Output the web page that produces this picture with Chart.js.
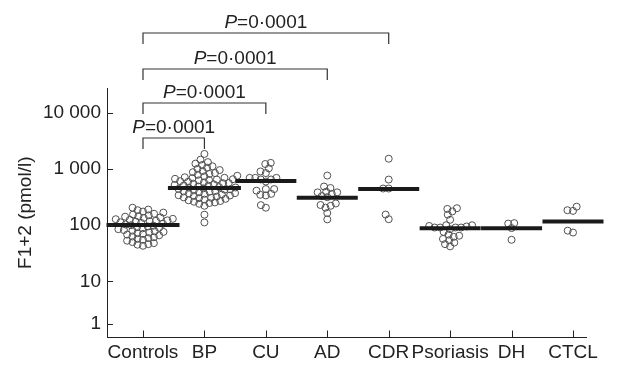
<!DOCTYPE html>
<html><head><meta charset="utf-8">
<script src="https://cdn.jsdelivr.net/npm/chart.js@4.4.1/dist/chart.umd.min.js"></script>
<style>html,body{margin:0;padding:0;background:#fff}</style>
</head><body>
<canvas id="c" width="627" height="378"></canvas>
<script>
// ---- data ----
const categories = ['Controls', 'BP', 'CU', 'AD', 'CDR', 'Psoriasis', 'DH', 'CTCL'];

const controls = [205, 190, 185, 175, 168, 160, 155, 150, 145, 142, 138, 135, 130,
  128, 125, 122, 120, 118, 116, 113, 110, 106, 103, 100, 98, 95, 92, 90,
  88, 85, 82, 80, 78, 76, 74, 72, 70, 68, 66, 63, 61, 59, 57, 55, 53,
  50, 48, 46, 45, 43];
const bp = [1860, 1470, 1330, 1250, 1180, 1120, 1060, 1010, 960, 920, 880, 850,
  820, 790, 760, 740, 715, 700, 690, 670, 660, 650, 640, 630, 610, 595, 580, 565,
  560, 550, 535, 520, 512, 505, 490, 478, 470, 466, 454, 442, 436, 430, 418, 406,
  400, 395, 384, 373, 368, 362, 352, 342, 338, 332, 322, 313, 308, 304, 295, 286,
  278, 270, 262, 255, 248, 241, 222, 154, 112];
const cu = [1290, 1230, 1030, 906, 848, 697, 697, 697, 653, 653, 600, 440, 440,
  412, 362, 348, 339, 228, 205];
const ad = [766, 489, 460, 396, 385, 385, 362, 330, 316, 244, 229, 222, 205, 165, 127];
const cdr = [1530, 650, 450, 450, 155, 128];
const psoriasis = [201, 195, 176, 154, 125, 100, 100, 97, 95, 91, 91, 91, 91, 85,
  76, 68, 65, 62, 57, 54, 49, 46, 42];
const dh = [109, 107, 89, 55];
const ctcl = [214, 185, 180, 80, 74];
const medians = [101, 458, 611, 310, 441, 88, 88, 116];

// tick labels; the reference draws its "1" tick well above the log position (compressed bottom decade)
const yTickValues = [1.77, 10, 100, 1000, 10000];
const yTickLabels = ['1', '10', '100', '1 000', '10 000'];

const comparisons = [[0, 1], [0, 2], [0, 3], [0, 4]];
const pLabels = ['0·0001', '0·0001', '0·0001', '0·0001'];

// ---- styling / layout constants ----
const FONT = '"Liberation Sans", Arial, Helvetica, sans-serif';
const INK = '#222';
const groups = [controls, bp, cu, ad, cdr, psoriasis, dh, ctcl];
const medianHalfWidth = [36.5, 36.5, 30.5, 30.5, 30.5, 30.5, 30.5, 30.5];
const bracketY = [138, 103, 69, 33];
const DOT_R = 3.5, DOT_D = 5.6;

const pointData = [];
groups.forEach((vals, gi) => vals.forEach(v => pointData.push({x: gi, y: v, g: gi})));
const medianData = medians.map((m, i) => ({x: i, y: m}));

const inwardTicks = {
  id: 'inwardTicks',
  afterDraw(chart) {
    const {ctx, chartArea: a, scales: {x, y}} = chart;
    ctx.save();
    ctx.strokeStyle = INK; ctx.lineWidth = 1;
    ctx.beginPath();
    x.ticks.forEach(t => { const px = Math.round(x.getPixelForValue(t.value)) + 0.5; ctx.moveTo(px, a.bottom); ctx.lineTo(px, a.bottom - 7); });
    y.ticks.forEach(t => { const py = Math.round(y.getPixelForValue(t.value)) + 0.5; ctx.moveTo(a.left, py); ctx.lineTo(a.left + 6, py); });
    ctx.stroke();
    ctx.restore();
  }
};

const brackets = {
  id: 'brackets',
  afterDraw(chart) {
    const {ctx, scales: {x}} = chart;
    ctx.save();
    ctx.strokeStyle = '#333'; ctx.lineWidth = 1.2;
    ctx.fillStyle = INK;
    comparisons.forEach(([a, b], i) => {
      const x1 = x.getPixelForValue(a), x2 = x.getPixelForValue(b), yy = bracketY[i];
      ctx.beginPath();
      ctx.moveTo(x1, yy + 11); ctx.lineTo(x1, yy); ctx.lineTo(x2, yy); ctx.lineTo(x2, yy + 11);
      ctx.stroke();
      const italic = 'italic 19px ' + FONT, normal = '19px ' + FONT;
      const rest = '=' + pLabels[i];
      ctx.font = italic; const wP = ctx.measureText('P').width;
      ctx.font = normal; const wR = ctx.measureText(rest).width;
      let tx = (x1 + x2) / 2 - (wP + wR) / 2;
      ctx.textBaseline = 'alphabetic'; ctx.textAlign = 'left';
      ctx.font = italic; ctx.fillText('P', tx, yy - 5);
      ctx.font = normal; ctx.fillText(rest, tx + wP, yy - 5);
    });
    ctx.restore();
  }
};

const chart = new Chart(document.getElementById('c'), {
  type: 'scatter',
  data: {
    datasets: [
      {
        label: 'median', data: medianData, pointStyle: 'line',
        pointRadius: medianHalfWidth, pointHoverRadius: medianHalfWidth,
        borderColor: '#1a1a1a', borderWidth: 4, clip: false
      },
      {
        label: 'values', data: pointData, pointStyle: 'circle',
        pointRadius: DOT_R, borderColor: '#505050', borderWidth: 1,
        backgroundColor: 'rgba(0,0,0,0)', clip: false
      }
    ]
  },
  options: {
    responsive: false, animation: false,
    layout: {padding: {top: 88, right: 27, left: 0, bottom: 0}},
    plugins: {legend: {display: false}, tooltip: {enabled: false}},
    scales: {
      x: {
        type: 'linear', min: -0.586, max: 7.22,
        afterBuildTicks: s => { s.ticks = categories.map((c, i) => ({value: i})); },
        afterFit: s => { s.height = 29; },
        grid: {drawOnChartArea: false, drawTicks: false},
        border: {display: true, color: INK, width: 1},
        ticks: {
          callback: v => categories[v], color: INK, padding: 4,
          font: {family: FONT, size: 19}, maxRotation: 0, autoSkip: false
        }
      },
      y: {
        type: 'logarithmic', min: 1, max: 27800,
        afterBuildTicks: s => { s.ticks = yTickValues.map(v => ({value: v})); },
        afterFit: s => { s.width = 107; },
        grid: {drawOnChartArea: false, drawTicks: false},
        border: {display: true, color: INK, width: 1},
        ticks: {
          callback: v => yTickLabels[yTickValues.indexOf(v)], color: INK, padding: 6,
          font: {family: FONT, size: 19}, autoSkip: false
        },
        title: {
          display: true, text: 'F1+2 (pmol/l)', color: INK,
          font: {family: FONT, size: 19}, padding: {top: 14.6, bottom: 0}
        }
      }
    }
  },
  plugins: [inwardTicks, brackets]
});

// beeswarm layout of the dots (computed in pixel space from the values)
function swarm(pys, d) {
  const order = pys.map((_, i) => i).sort((a, b) => pys[b] - pys[a]);
  const placed = [], out = new Array(pys.length);
  order.forEach(i => {
    const y = pys[i];
    const near = placed.filter(p => Math.abs(p.y - y) < d);
    const cands = [0];
    near.forEach(p => { const dx = Math.sqrt(d * d - (p.y - y) ** 2); cands.push(p.x + dx, p.x - dx); });
    cands.sort((a, b) => Math.abs(a) - Math.abs(b) || a - b);
    let cx = 0;
    for (const c of cands) {
      if (near.every(p => (c - p.x) ** 2 + (p.y - y) ** 2 >= d * d - 1e-6)) { cx = c; break; }
    }
    placed.push({x: cx, y});
    out[i] = cx;
  });
  return out;
}
(function layoutSwarm() {
  const xs = chart.scales.x, ys = chart.scales.y;
  const unit = xs.getPixelForValue(1) - xs.getPixelForValue(0);
  let k = 0;
  groups.forEach((vals, gi) => {
    const offs = swarm(vals.map(v => ys.getPixelForValue(v)), DOT_D);
    offs.forEach(o => { pointData[k].x = gi + o / unit; k++; });
  });
  chart.update('none');
})();
</script>
</body></html>
